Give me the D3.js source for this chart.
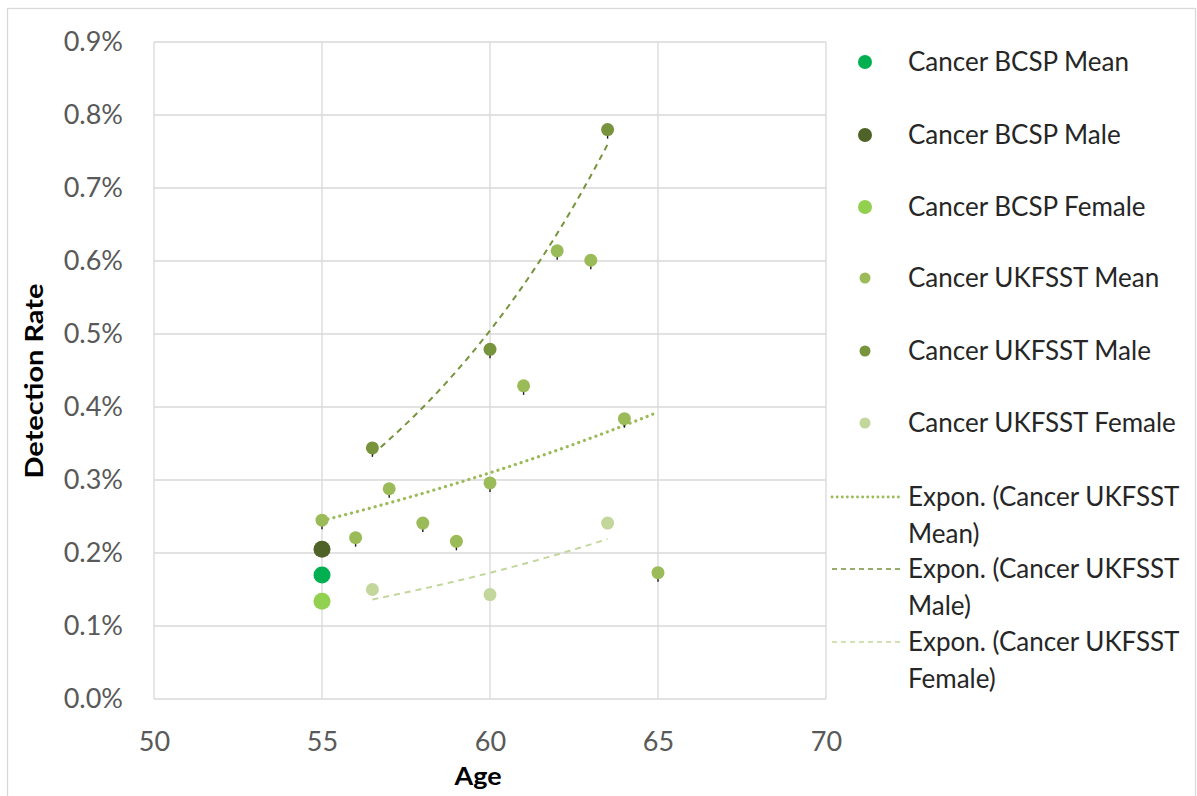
<!DOCTYPE html>
<html>
<head>
<meta charset="utf-8">
<script src="https://cdn.jsdelivr.net/npm/d3@7"></script>
<style>
  html, body { margin: 0; padding: 0; background: #fff; }
  svg { display: block; font-family: Lato, "Open Sans", sans-serif; }
</style>
</head>
<body>
<svg id="chart" width="1197" height="796"></svg>
<script>
// Cancer detection rate by age: BCSP (age 55) vs UKFSST groups
const bcspAge = [55];
const bcspMean = [0.170];
const bcspMale = [0.205];
const bcspFemale = [0.134];

const ukMeanAge = [55, 56, 57, 58, 59, 60, 61, 62, 63, 64, 65];
const ukMean = [0.245, 0.221, 0.288, 0.241, 0.216, 0.296, 0.429, 0.614, 0.601, 0.384, 0.173];

const ukGroupAge = [56.5, 60, 63.5];
const ukMale = [0.344, 0.479, 0.780];
const ukFemale = [0.150, 0.143, 0.241];

const xTicks = [50, 55, 60, 65, 70];
const yTicks = [0, 0.1, 0.2, 0.3, 0.4, 0.5, 0.6, 0.7, 0.8, 0.9];

const svg = d3.select("#chart");

const plot = { left: 154, right: 826, top: 42, bottom: 699 };
const x = d3.scaleLinear().domain([50, 70]).range([plot.left, plot.right]);
const y = d3.scaleLinear().domain([0, 0.9]).range([plot.bottom, plot.top]);

// chart frame
svg.append("rect")
  .attr("x", 7.5).attr("y", 8.5).attr("width", 1188).attr("height", 800)
  .attr("fill", "#fff").attr("stroke", "#d9d9d9").attr("stroke-width", 1.3);

// gridlines
const grid = svg.append("g").attr("stroke", "#d9d9d9").attr("stroke-width", 1.3);
grid.selectAll(".gy").data(yTicks).join("line")
  .attr("x1", plot.left).attr("x2", plot.right)
  .attr("y1", d => y(d)).attr("y2", d => y(d));
grid.selectAll(".gx").data(xTicks).join("line")
  .attr("y1", plot.top).attr("y2", plot.bottom)
  .attr("x1", d => x(d)).attr("x2", d => x(d));

// axes (labels only, Excel-style)
const yAxis = d3.axisLeft(y).tickValues(yTicks).tickSize(0).tickPadding(31)
  .tickFormat(d => d.toFixed(1) + "%");
const yg = svg.append("g").attr("transform", `translate(${plot.left},0)`).call(yAxis);
yg.select(".domain").remove();
yg.selectAll("text").attr("fill", "#595959").style("font-size", "27px")
  .style("font-family", "Lato, 'Open Sans', sans-serif");

const xAxis = d3.axisBottom(x).tickValues(xTicks).tickSize(0).tickPadding(33);
const xg = svg.append("g").attr("transform", `translate(0,${plot.bottom})`).call(xAxis);
xg.select(".domain").remove();
xg.selectAll("text").attr("fill", "#595959").style("font-size", "27px")
  .style("font-family", "Lato, 'Open Sans', sans-serif");

// axis titles
svg.append("text").attr("x", 478).attr("y", 785).attr("text-anchor", "middle")
  .attr("font-weight", "bold").attr("font-size", 25).attr("fill", "#000")
  .attr("textLength", 47).attr("lengthAdjust", "spacingAndGlyphs").text("Age");
svg.append("text").attr("transform", "translate(43,381) rotate(-90)").attr("text-anchor", "middle")
  .attr("font-weight", "bold").attr("font-size", 25).attr("fill", "#000")
  .attr("textLength", 195).attr("lengthAdjust", "spacingAndGlyphs").text("Detection Rate");

// exponential least-squares fit: y = a * exp(b x)
function expFit(xs, ys) {
  const n = xs.length;
  const ly = ys.map(Math.log);
  const mx = d3.mean(xs), my = d3.mean(ly);
  let sxy = 0, sxx = 0;
  for (let i = 0; i < n; i++) { sxy += (xs[i] - mx) * (ly[i] - my); sxx += (xs[i] - mx) ** 2; }
  const b = sxy / sxx, lnA = my - b * mx;
  return t => Math.exp(lnA + b * t);
}
function trendPts(xs, ys) {
  const f = expFit(xs, ys);
  const [lo, hi] = d3.extent(xs);
  return d3.range(0, 41).map(i => { const t = lo + (hi - lo) * i / 40; return [t, f(t)]; });
}
const line = d3.line().x(d => x(d[0])).y(d => y(d[1]));

const trends = [
  { name: "Expon. (Cancer UKFSST Mean)", xs: ukMeanAge, ys: ukMean, color: "#9bbb59", dash: "0.1 6", width: 3.2, cap: "round" },
  { name: "Expon. (Cancer UKFSST Male)", xs: ukGroupAge, ys: ukMale, color: "#77933c", dash: "6 5", width: 2, cap: "butt" },
  { name: "Expon. (Cancer UKFSST Female)", xs: ukGroupAge, ys: ukFemale, color: "#c3d69b", dash: "6 5", width: 2, cap: "butt" }
];
trends.forEach(t => {
  svg.append("path").datum(trendPts(t.xs, t.ys)).attr("d", line)
    .attr("fill", "none").attr("stroke", t.color).attr("stroke-width", t.width)
    .attr("stroke-dasharray", t.dash).attr("stroke-linecap", t.cap);
});

// scatter series
const series = [
  { name: "Cancer BCSP Mean", xs: bcspAge, ys: bcspMean, color: "#00b050", r: 8.5, tick: false },
  { name: "Cancer BCSP Male", xs: bcspAge, ys: bcspMale, color: "#4f6228", r: 8.5, tick: false },
  { name: "Cancer BCSP Female", xs: bcspAge, ys: bcspFemale, color: "#92d050", r: 8.5, tick: false },
  { name: "Cancer UKFSST Mean", xs: ukMeanAge, ys: ukMean, color: "#9bbb59", r: 6.5, tick: true },
  { name: "Cancer UKFSST Male", xs: ukGroupAge, ys: ukMale, color: "#77933c", r: 6.5, tick: true },
  { name: "Cancer UKFSST Female", xs: ukGroupAge, ys: ukFemale, color: "#c3d69b", r: 6.5, tick: false }
];
const drawOrder = [3, 4, 5, 1, 0, 2];
drawOrder.forEach(si => {
  const s = series[si];
  const pts = s.xs.map((v, i) => [v, s.ys[i]]);
  const g = svg.append("g");
  if (s.tick) {
    g.selectAll("line").data(pts).join("line")
      .attr("x1", d => x(d[0])).attr("x2", d => x(d[0]))
      .attr("y1", d => y(d[1]) + 4).attr("y2", d => y(d[1]) + 9)
      .attr("stroke", "#1a1a1a").attr("stroke-width", 1.4);
  }
  g.selectAll("circle").data(pts).join("circle")
    .attr("cx", d => x(d[0])).attr("cy", d => y(d[1])).attr("r", s.r)
    .attr("fill", s.color);
});

// legend
const leg = svg.append("g");
const legRowY = [62, 135, 207, 278, 351, 423];
const legFont = 26;
series.forEach((s, i) => {
  leg.append("circle").attr("cx", 865).attr("cy", legRowY[i]).attr("r", s.r > 7 ? 7 : 5.5).attr("fill", s.color);
  leg.append("text").attr("x", 908).attr("y", legRowY[i]).attr("dy", "0.35em")
    .attr("font-size", legFont).attr("fill", "#262626").text(s.name);
});
const trendLegY = [497, 569, 642];
trends.forEach((t, i) => {
  leg.append("line").attr("x1", 832).attr("x2", 900).attr("y1", trendLegY[i]).attr("y2", trendLegY[i])
    .attr("stroke", t.color).attr("stroke-width", i === 0 ? 2.8 : 1.6)
    .attr("stroke-dasharray", i === 0 ? "0.1 5" : "5 4").attr("stroke-linecap", i === 0 ? "round" : "butt");
  const parts = t.name.replace("Cancer UKFSST ", "Cancer UKFSST|").split("|");
  parts.forEach((p, j) => {
    leg.append("text").attr("x", 908).attr("y", trendLegY[i] + j * 36.5).attr("dy", "0.35em")
      .attr("font-size", legFont).attr("fill", "#262626").text(p);
  });
});
</script>
</body>
</html>
